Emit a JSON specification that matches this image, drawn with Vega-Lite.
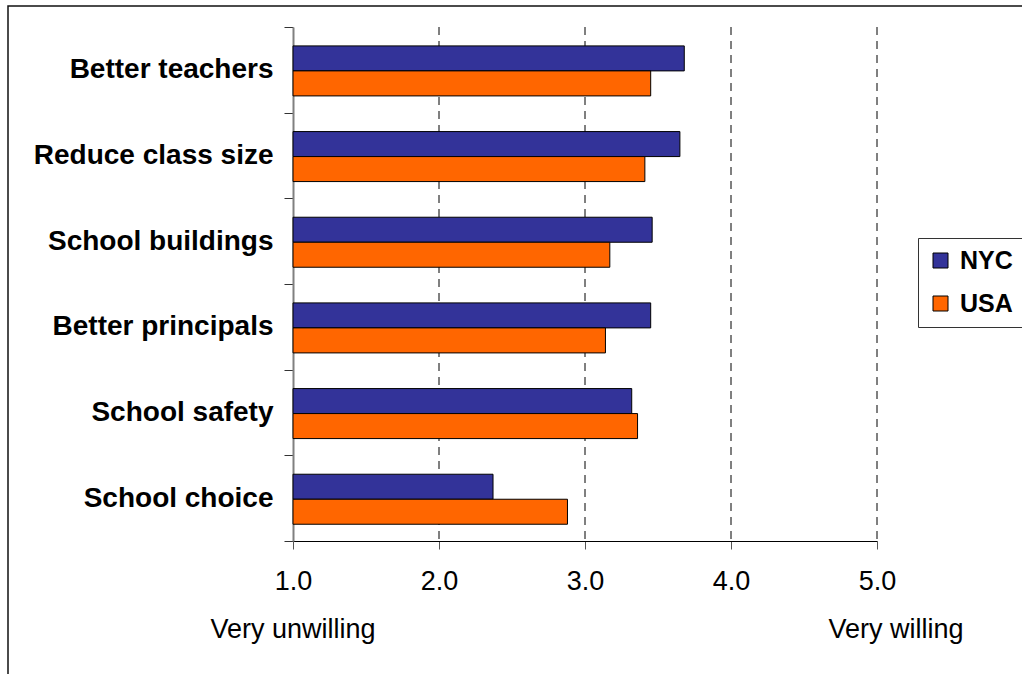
{
  "$schema": "https://vega.github.io/schema/vega-lite/v6.json",
  "width": 1017,
  "height": 671,
  "autosize": {"type": "none"},
  "padding": {"left": 8, "top": 6, "right": -3, "bottom": -3},
  "background": "white",
  "config": {
    "view": {"stroke": "#111", "strokeWidth": 1.5},
    "font": "Liberation Sans"
  },
  "datasets": {
    "bars": [
      {"item": "Better teachers", "region": "NYC", "score": 3.68},
      {"item": "Better teachers", "region": "USA", "score": 3.45},
      {"item": "Reduce class size", "region": "NYC", "score": 3.65},
      {"item": "Reduce class size", "region": "USA", "score": 3.41},
      {"item": "School buildings", "region": "NYC", "score": 3.46},
      {"item": "School buildings", "region": "USA", "score": 3.17},
      {"item": "Better principals", "region": "NYC", "score": 3.45},
      {"item": "Better principals", "region": "USA", "score": 3.14},
      {"item": "School safety", "region": "NYC", "score": 3.32},
      {"item": "School safety", "region": "USA", "score": 3.36},
      {"item": "School choice", "region": "NYC", "score": 2.37},
      {"item": "School choice", "region": "USA", "score": 2.88}
    ],
    "gridlines": [
      {"v": 2},
      {"v": 3},
      {"v": 4},
      {"v": 5}
    ],
    "notes": [
      {"label": "Very unwilling", "pos": 1.0},
      {"label": "Very willing", "pos": 5.13}
    ]
  },
  "resolve": {"scale": {"y": "independent"}},
  "layer": [
    {
      "data": {"name": "gridlines"},
      "mark": {"type": "rule", "color": "#000", "strokeWidth": 1, "strokeDash": [8, 6]},
      "encoding": {
        "x": {"field": "v", "type": "quantitative", "axis": {"title": null}},
        "y": {"datum": 0, "type": "quantitative", "scale": {"domain": [0, 1], "range": [21, 535]}, "axis": null},
        "y2": {"datum": 1}
      }
    },
    {
      "data": {"name": "bars"},
      "mark": {"type": "bar", "stroke": "#000", "strokeWidth": 1},
      "encoding": {
        "y": {
          "field": "item",
          "type": "nominal",
          "sort": null,
          "scale": {"range": [21, 535], "paddingInner": 0, "paddingOuter": 0},
          "axis": {
            "title": null,
            "orient": "left",
            "offset": -285,
            "tickBand": "extent",
            "domainColor": "#808080",
            "domainWidth": 2,
            "tickColor": "#333",
            "tickSize": 9,
            "labelFont": "Liberation Sans",
            "labelFontSize": 28,
            "labelFontWeight": "bold",
            "labelColor": "#000",
            "labelPadding": 11,
            "labelLimit": 400,
            "grid": false
          }
        },
        "yOffset": {
          "field": "region",
          "type": "nominal",
          "scale": {"paddingInner": 0, "paddingOuter": 0.713, "align": 0.53}
        },
        "x": {
          "field": "score",
          "type": "quantitative",
          "scale": {"domain": [1, 5], "range": [285, 869], "nice": false, "zero": false},
          "axis": {
            "title": null,
            "orient": "bottom",
            "offset": -136,
            "values": [1, 2, 3, 4, 5],
            "format": ".1f",
            "grid": false,
            "domainColor": "#000",
            "domainWidth": 1,
            "tickColor": "#555",
            "tickSize": 8,
            "labelFont": "Liberation Sans",
            "labelFontSize": 27,
            "labelColor": "#000",
            "labelPadding": 19,
            "labelFlush": false
          }
        },
        "x2": {"datum": 1},
        "color": {
          "field": "region",
          "type": "nominal",
          "scale": {"domain": ["NYC", "USA"], "range": ["#333399", "#FF6600"]},
          "legend": {
            "title": null,
            "orient": "none",
            "legendX": 910,
            "legendY": 232,
            "strokeColor": "#333",
            "fillColor": "white",
            "padding": 10,
            "symbolType": "square",
            "symbolSize": 225,
            "symbolStrokeColor": "#000",
            "symbolStrokeWidth": 1,
            "symbolOpacity": 1,
            "labelFont": "Liberation Sans",
            "labelFontSize": 25,
            "labelFontWeight": "bold",
            "labelColor": "#000",
            "labelOffset": 7,
            "rowPadding": 17
          }
        }
      }
    },
    {
      "data": {"name": "notes"},
      "mark": {"type": "text", "fontSize": 27, "font": "Liberation Sans", "color": "#000", "align": "center", "baseline": "alphabetic", "dy": -39},
      "encoding": {
        "x": {"field": "pos", "type": "quantitative", "axis": {"title": null}},
        "y": {"value": "height"},
        "text": {"field": "label"}
      }
    }
  ]
}
